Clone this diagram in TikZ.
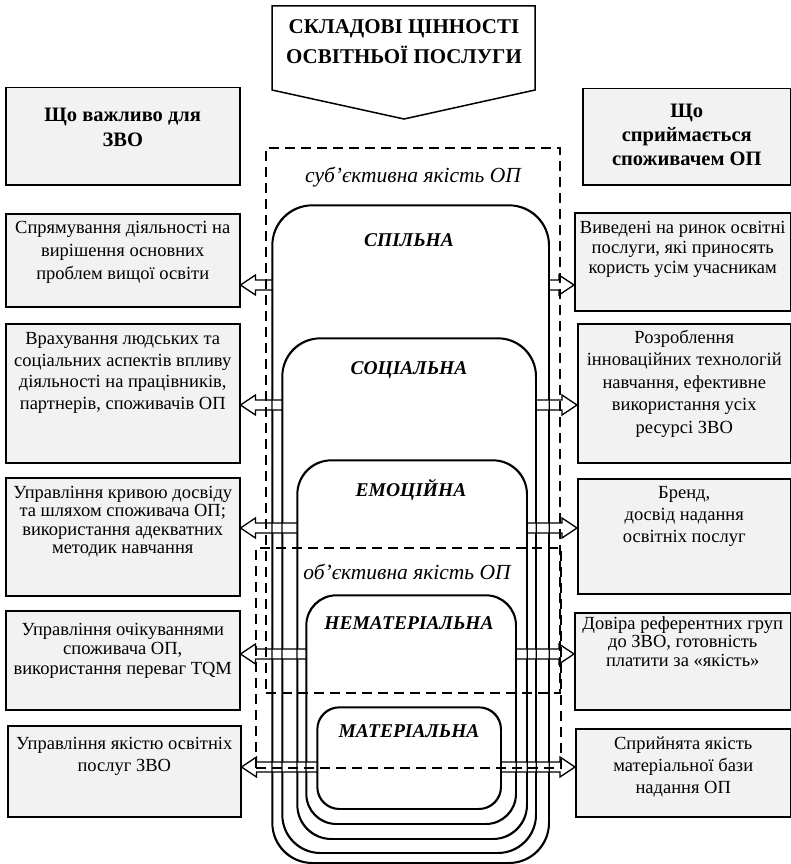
\documentclass[tikz,border=0pt]{standalone}
\usepackage{fontspec}
\setmainfont{Liberation Serif}
\usetikzlibrary{calc}
\definecolor{boxgray}{HTML}{F2F2F2}
\newcommand\ArrL[2]{\draw[arr] ($(#1)+(0,-5)$) -- ($(#2)+(15,-5)$) -- ($(#2)+(15,-10)$) -- (#2) -- ($(#2)+(15,10)$) -- ($(#2)+(15,5)$) -- ($(#1)+(0,5)$);}
\newcommand\ArrR[2]{\draw[arr] ($(#1)+(0,-5)$) -- ($(#2)+(-15,-5)$) -- ($(#2)+(-15,-10)$) -- (#2) -- ($(#2)+(-15,10)$) -- ($(#2)+(-15,5)$) -- ($(#1)+(0,5)$);}
\begin{document}
\begin{tikzpicture}[x=1pt,y=-1pt,
  box/.style={draw, line width=1.5pt, fill=boxgray, inner sep=0pt, anchor=north west},
  txt/.style={align=center, inner sep=0pt, anchor=north, font=\fontsize{18.5}{#1}\selectfont},
  hd/.style={align=center, inner sep=0pt, anchor=north, font=\fontsize{20.5}{#1}\selectfont\bfseries},
  layer/.style={draw, line width=1.3pt, rounded corners=#1, inner sep=0pt, anchor=north west},
  lbl/.style={font=\fontsize{19.5}{22}\selectfont\bfseries\itshape, inner sep=0pt},
  qual/.style={font=\fontsize{21.5}{22}\selectfont\itshape, inner sep=0pt},
  dsh/.style={draw, line width=1.8pt, dash pattern=on 10pt off 6pt, inner sep=0pt, anchor=north west},
  arr/.style={draw, line width=1.3pt, line join=miter, fill=white}]
\useasboundingbox (0,0) rectangle (791,864);

% title
\draw[line width=1.5pt, fill=white] (272,6) -- (535,6) -- (535,90) -- (404,119) -- (272,90) -- cycle;
\node[align=center, inner sep=0pt, font=\fontsize{21}{30}\selectfont\bfseries] (title) at (404,42) {СКЛАДОВІ ЦІННОСТІ\\ОСВІТНЬОЇ ПОСЛУГИ};

% headers
\node[box, minimum width=234, minimum height=97] (LH) at (5,87) {};
\node[hd=25] (LHt) at ($(LH.north)+(0,21)$) {Що важливо для\\ЗВО};
\node[box, minimum width=208, minimum height=96] (RH) at (582,88) {};
\node[hd=24] (RHt) at ($(RH.north)+(0,16)$) {Що\\сприймається\\споживачем ОП};

% left boxes
\node[box, minimum width=234, minimum height=93] (L1) at (5,213) {};
\node[txt=23] (L1t) at ($(L1.north)+(0,8)$) {Спрямування діяльності на\\вирішення основних\\проблем вищої освіти};
\node[box, minimum width=234, minimum height=139] (L2) at (5,323) {};
\node[txt=21.7] (L2t) at ($(L2.north)+(0,9)$) {Врахування людських та\\соціальних аспектів впливу\\діяльності на працівників,\\партнерів, споживачів ОП};
\node[box, minimum width=234, minimum height=118] (L3) at (5,477) {};
\node[txt=18.5] (L3t) at ($(L3.north)+(0,9)$) {Управління кривою досвіду\\та шляхом споживача ОП;\\використання адекватних\\методик навчання};
\node[box, minimum width=234, minimum height=99] (L4) at (5,610) {};
\node[txt=19.5] (L4t) at ($(L4.north)+(0,13)$) {Управління очікуваннями\\споживача ОП,\\використання переваг TQM};
\node[box, minimum width=233, minimum height=91] (L5) at (7,725) {};
\node[txt=22] (L5t) at ($(L5.north)+(0,12)$) {Управління якістю освітніх\\послуг ЗВО};

% right boxes
\node[box, minimum width=216, minimum height=98] (R1) at (574,212) {};
\node[txt=20] (R1t) at ($(R1.north)+(0,9)$) {Виведені на ринок освітні\\послуги, які приносять\\користь усім учасникам};
\node[box, minimum width=213, minimum height=139] (R2) at (577,323) {};
\node[txt=22.5] (R2t) at ($(R2.north)+(0,7)$) {Розроблення\\інноваційних технологій\\навчання, ефективне\\використання усіх\\ресурсі ЗВО};
\node[box, minimum width=213, minimum height=115] (R3) at (577,478) {};
\node[txt=22] (R3t) at ($(R3.north)+(0,8)$) {Бренд,\\досвід надання\\освітніх послуг};
\node[box, minimum width=216, minimum height=97] (R4) at (574,612) {};
\node[txt=18.5] (R4t) at ($(R4.north)+(0,4)$) {Довіра референтних груп\\до ЗВО, готовність\\платити за «якість»};
\node[box, minimum width=215, minimum height=88] (R5) at (575,728) {};
\node[txt=22] (R5t) at ($(R5.north)+(0,9)$) {Сприйнята якість\\матеріальної бази\\надання ОП};

% nested layers
\node[layer=40, minimum width=276, minimum height=657] (S1) at (272,205) {};
\node[layer=38, minimum width=253, minimum height=514] (S2) at (282,338) {};
\node[layer=34, minimum width=229, minimum height=378] (S3) at (297,460) {};
\node[layer=30, minimum width=209, minimum height=228] (S4) at (306,595) {};
\node[layer=22, minimum width=183, minimum height=101] (S5) at (317,707) {};

\node[lbl] (S1l) at (409,240) {СПІЛЬНА};
\node[lbl] (S2l) at (409,370) {СОЦІАЛЬНА};
\node[lbl] (S3l) at (411,490) {ЕМОЦІЙНА};
\node[lbl] (S4l) at (409,623) {НЕМАТЕРІАЛЬНА};
\node[lbl] (S5l) at (409,731) {МАТЕРІАЛЬНА};

% arrow end points
\coordinate (a1) at (S1.west |- 0,285); \coordinate (t1) at (L1.east |- 0,285);
\coordinate (b1) at (S1.east |- 0,285); \coordinate (u1) at (R1.west |- 0,285);
\coordinate (a2) at (S2.west |- 0,405); \coordinate (t2) at (L2.east |- 0,405);
\coordinate (b2) at (S2.east |- 0,405); \coordinate (u2) at (R2.west |- 0,405);
\coordinate (a3) at (S3.west |- 0,528); \coordinate (t3) at (L3.east |- 0,528);
\coordinate (b3) at (S3.east |- 0,528); \coordinate (u3) at (R3.west |- 0,528);
\coordinate (a4) at (S4.west |- 0,654); \coordinate (t4) at (L4.east |- 0,654);
\coordinate (b4) at (S4.east |- 0,654); \coordinate (u4) at (R4.west |- 0,654);
\coordinate (a5) at (S5.west |- 0,767); \coordinate (t5) at (L5.east |- 0,767);
\coordinate (b5) at (S5.east |- 0,767); \coordinate (u5) at (R5.west |- 0,767);

\ArrL{a1}{t1} \ArrR{b1}{u1}
\ArrL{a2}{t2} \ArrR{b2}{u2}
\ArrL{a3}{t3} \ArrR{b3}{u3}
\ArrL{a4}{t4} \ArrR{b4}{u4}
\ArrL{a5}{t5} \ArrR{b5}{u5}

% redraw layer outlines over arrows
\foreach \s/\r in {S1/40,S2/38,S3/34,S4/30,S5/22}{
  \draw[line width=1.3pt, rounded corners=\r] (\s.north west) rectangle (\s.south east);
}

% quality zones
\node[dsh, minimum width=294, minimum height=545] (subj) at (265,147) {};
\node[qual] (subjl) at (413,177) {суб’єктивна якість ОП};
\node[dsh, minimum width=305, minimum height=220] (obj) at (255,547) {};
\node[qual] (objl) at (407,572) {об’єктивна якість ОП};
\end{tikzpicture}
\end{document}
